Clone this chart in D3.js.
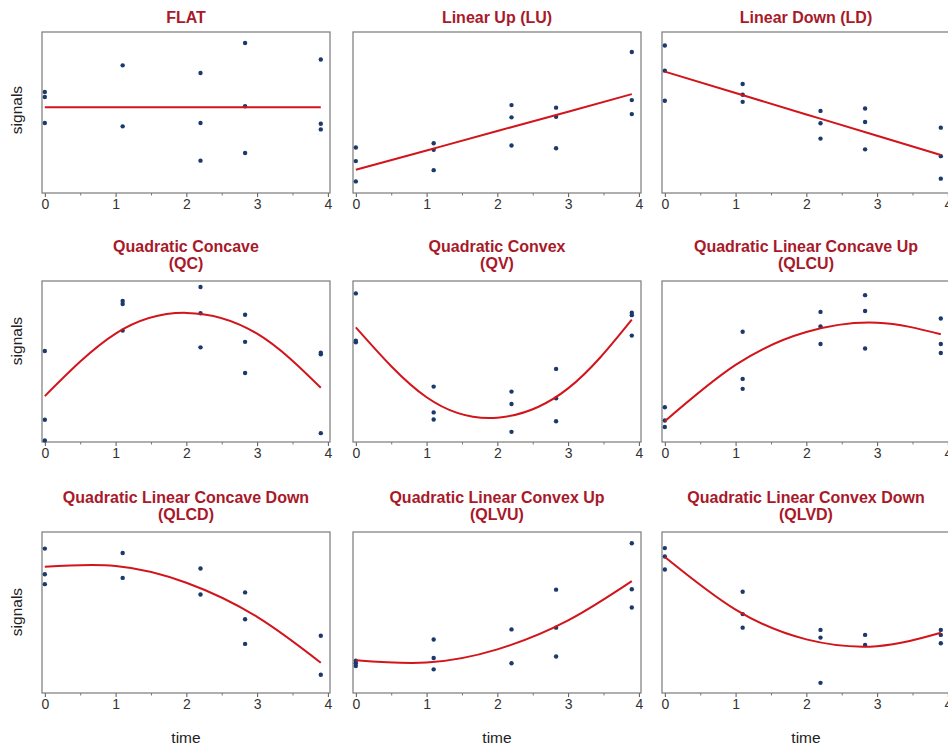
<!DOCTYPE html>
<html lang="en">
    <head>
        <meta charset="utf-8">
        <title>Signal trend shapes</title>
        <script src="https://d3js.org/d3.v7.min.js"></script>
        <style type="text/css">
            body {
                margin: 0;
                background: white;
            }

            .title {
                font-family: "Liberation Sans", Arial, sans-serif;
                font-size: 16px;
                font-weight: bold;
                fill: #a8192a;
            }

            .axisLabel {
                font-family: "Liberation Sans", Arial, sans-serif;
                font-size: 15.5px;
                fill: #222;
            }

            .tick text {
                font-family: "Liberation Sans", Arial, sans-serif;
                font-size: 14px;
                fill: #333;
            }

            .frame {
                fill: none;
                stroke: #7a7a7a;
                stroke-width: 1.2px;
            }

            .fit {
                fill: none;
                stroke: #d2141b;
                stroke-width: 2px;
            }
        </style>
    </head>
    <body>
        <svg width="948" height="751"></svg>
        <script type="text/javascript">

        // measurement times (x) and the times where the fitted curves were read
        const times = [0, 1.1, 2.2, 2.83, 3.9];
        const fitTimes = [0, 1, 2, 3, 3.9];
        const xTicks = [0, 1, 2, 3, 4];
        const xMinorTicks = [0.5, 1.5, 2.5, 3.5];

        const titles = [
            ["FLAT"],
            ["Linear Up (LU)"],
            ["Linear Down (LD)"],
            ["Quadratic Concave", "(QC)"],
            ["Quadratic Convex", "(QV)"],
            ["Quadratic Linear Concave Up", "(QLCU)"],
            ["Quadratic Linear Concave Down", "(QLCD)"],
            ["Quadratic Linear Convex Up", "(QLVU)"],
            ["Quadratic Linear Convex Down", "(QLVD)"]
        ];

        // signals per time point (one inner array per time), arbitrary units 0-10
        const sigFLAT = [[6.27, 5.96, 4.35], [7.93, 4.14], [7.45, 4.35, 2.01], [9.32, 5.39, 2.48], [8.29, 4.3, 3.95]];
        const sigLU   = [[2.83, 1.98, 0.72], [3.09, 2.68, 1.42], [5.46, 4.70, 2.95], [5.30, 4.74, 2.78], [8.76, 5.77, 4.90]];
        const sigLD   = [[9.16, 7.60, 5.73], [6.77, 6.10, 5.66], [5.10, 4.33, 3.38], [5.25, 4.41, 2.71], [4.06, 2.29, 0.89]];
        const sigQC   = [[5.65, 1.38, 0.10], [8.76, 8.57, 6.92], [9.63, 8.00, 5.88], [7.90, 6.22, 4.29], [5.55, 5.45, 0.55]];
        const sigQV   = [[9.23, 6.29, 6.19], [3.44, 1.84, 1.40], [3.13, 2.36, 0.63], [4.54, 2.71, 1.29], [8.03, 7.88, 6.61]];
        const sigQLCU = [[2.16, 1.34, 0.93], [6.85, 3.92, 3.30], [8.08, 7.17, 6.09], [9.12, 8.14, 5.81], [7.67, 6.09, 5.53]];
        const sigQLCD = [[8.97, 7.38, 6.76], [8.70, 7.15], [7.73, 6.12], [6.25, 4.58, 3.05], [3.56, 1.13]];
        const sigQLVU = [[2.00, 1.85, 1.68], [3.32, 2.17, 1.47], [3.95, 1.85], [6.42, 4.06, 2.27], [9.30, 6.44, 5.31]];
        const sigQLVD = [[9.00, 8.48, 7.67], [6.29, 4.90, 4.06], [3.92, 3.44, 0.63], [3.61, 2.98], [3.92, 3.61, 3.09]];

        // fitted curve values at fitTimes
        const fitFLAT = [5.32, 5.32, 5.32, 5.32, 5.32];
        const fitLU   = [1.44, 2.64, 3.85, 5.05, 6.14];
        const fitLD   = [7.54, 6.21, 4.88, 3.56, 2.36];
        const fitQC   = [2.85, 6.73, 8.02, 6.73, 3.37];
        const fitQV   = [7.12, 2.78, 1.51, 3.33, 7.60];
        const fitQLCU = [1.29, 4.79, 6.83, 7.41, 6.69];
        const fitQLCD = [7.84, 7.89, 6.85, 4.73, 1.88];
        const fitQLVU = [2.03, 1.89, 2.71, 4.51, 6.95];
        const fitQLVD = [8.45, 5.18, 3.33, 2.91, 3.74];

        const signals = [sigFLAT, sigLU, sigLD, sigQC, sigQV, sigQLCU, sigQLCD, sigQLVU, sigQLVD];
        const fits = [fitFLAT, fitLU, fitLD, fitQC, fitQV, fitQLCU, fitQLCD, fitQLVU, fitQLVD];

        const svg = d3.select("svg");

        //panel grid
        const colLeft = [42, 353, 662];
        const rowTop = [32, 281, 532];
        const boxW = 288;
        const boxH = 161;
        const signalsY = [110, 341, 612];

        const y = d3.scaleLinear().domain([0, 10]).range([boxH, 0]);
        const x = d3.scaleLinear().domain([-0.04, 4.03]).range([0, boxW]);

        const line = d3.line()
            .x(d => x(d[0]))
            .y(d => y(d[1]))
            .curve(d3.curveNatural);

        titles.forEach((title, i) => {
            const row = Math.floor(i / 3);
            const col = i % 3;
            const g = svg.append("g")
                .attr("transform", "translate(" + colLeft[col] + "," + rowTop[row] + ")");

            // title lines
            const firstBase = title.length == 1 ? -9 : -29;
            title.forEach((t, k) => {
                g.append("text")
                    .attr("class", "title")
                    .attr("x", boxW / 2)
                    .attr("y", firstBase + k * 17)
                    .attr("text-anchor", "middle")
                    .text(t);
            });

            //x axis
            g.append("g")
                .attr("transform", "translate(0," + boxH + ")")
                .call(d3.axisBottom(x).tickValues(xTicks).tickFormat(d3.format("d"))
                    .tickSize(4).tickSizeOuter(0).tickPadding(2))
                .call(a => a.select(".domain").remove())
                .call(a => a.selectAll("line").attr("stroke", "#555"));

            g.append("g")
                .attr("transform", "translate(0," + boxH + ")")
                .call(d3.axisBottom(x).tickValues(xMinorTicks).tickSize(2.5).tickSizeOuter(0).tickFormat(""))
                .call(a => a.select(".domain").remove())
                .call(a => a.selectAll("line").attr("stroke", "#777"));

            g.append("rect")
                .attr("class", "frame")
                .attr("width", boxW)
                .attr("height", boxH);

            // points
            const pts = [];
            signals[i].forEach((vals, j) => vals.forEach(v => pts.push([times[j], v])));
            g.selectAll("circle")
                .data(pts)
                .enter()
                .append("circle")
                .attr("cx", d => x(d[0]))
                .attr("cy", d => y(d[1]))
                .attr("r", 2.2)
                .attr("fill", "#1b3a6b");

            // fitted curve
            g.append("path")
                .attr("class", "fit")
                .attr("d", line(fitTimes.map((t, j) => [t, fits[i][j]])));
        });

        // shared axis titles
        signalsY.forEach(cy => {
            svg.append("text")
                .attr("class", "axisLabel")
                .attr("transform", "translate(22," + cy + ") rotate(-90)")
                .attr("text-anchor", "middle")
                .text("signals");
        });

        colLeft.forEach(cx => {
            svg.append("text")
                .attr("class", "axisLabel")
                .attr("x", cx + boxW / 2)
                .attr("y", 743)
                .attr("text-anchor", "middle")
                .text("time");
        });

        </script>
    </body>
</html>
